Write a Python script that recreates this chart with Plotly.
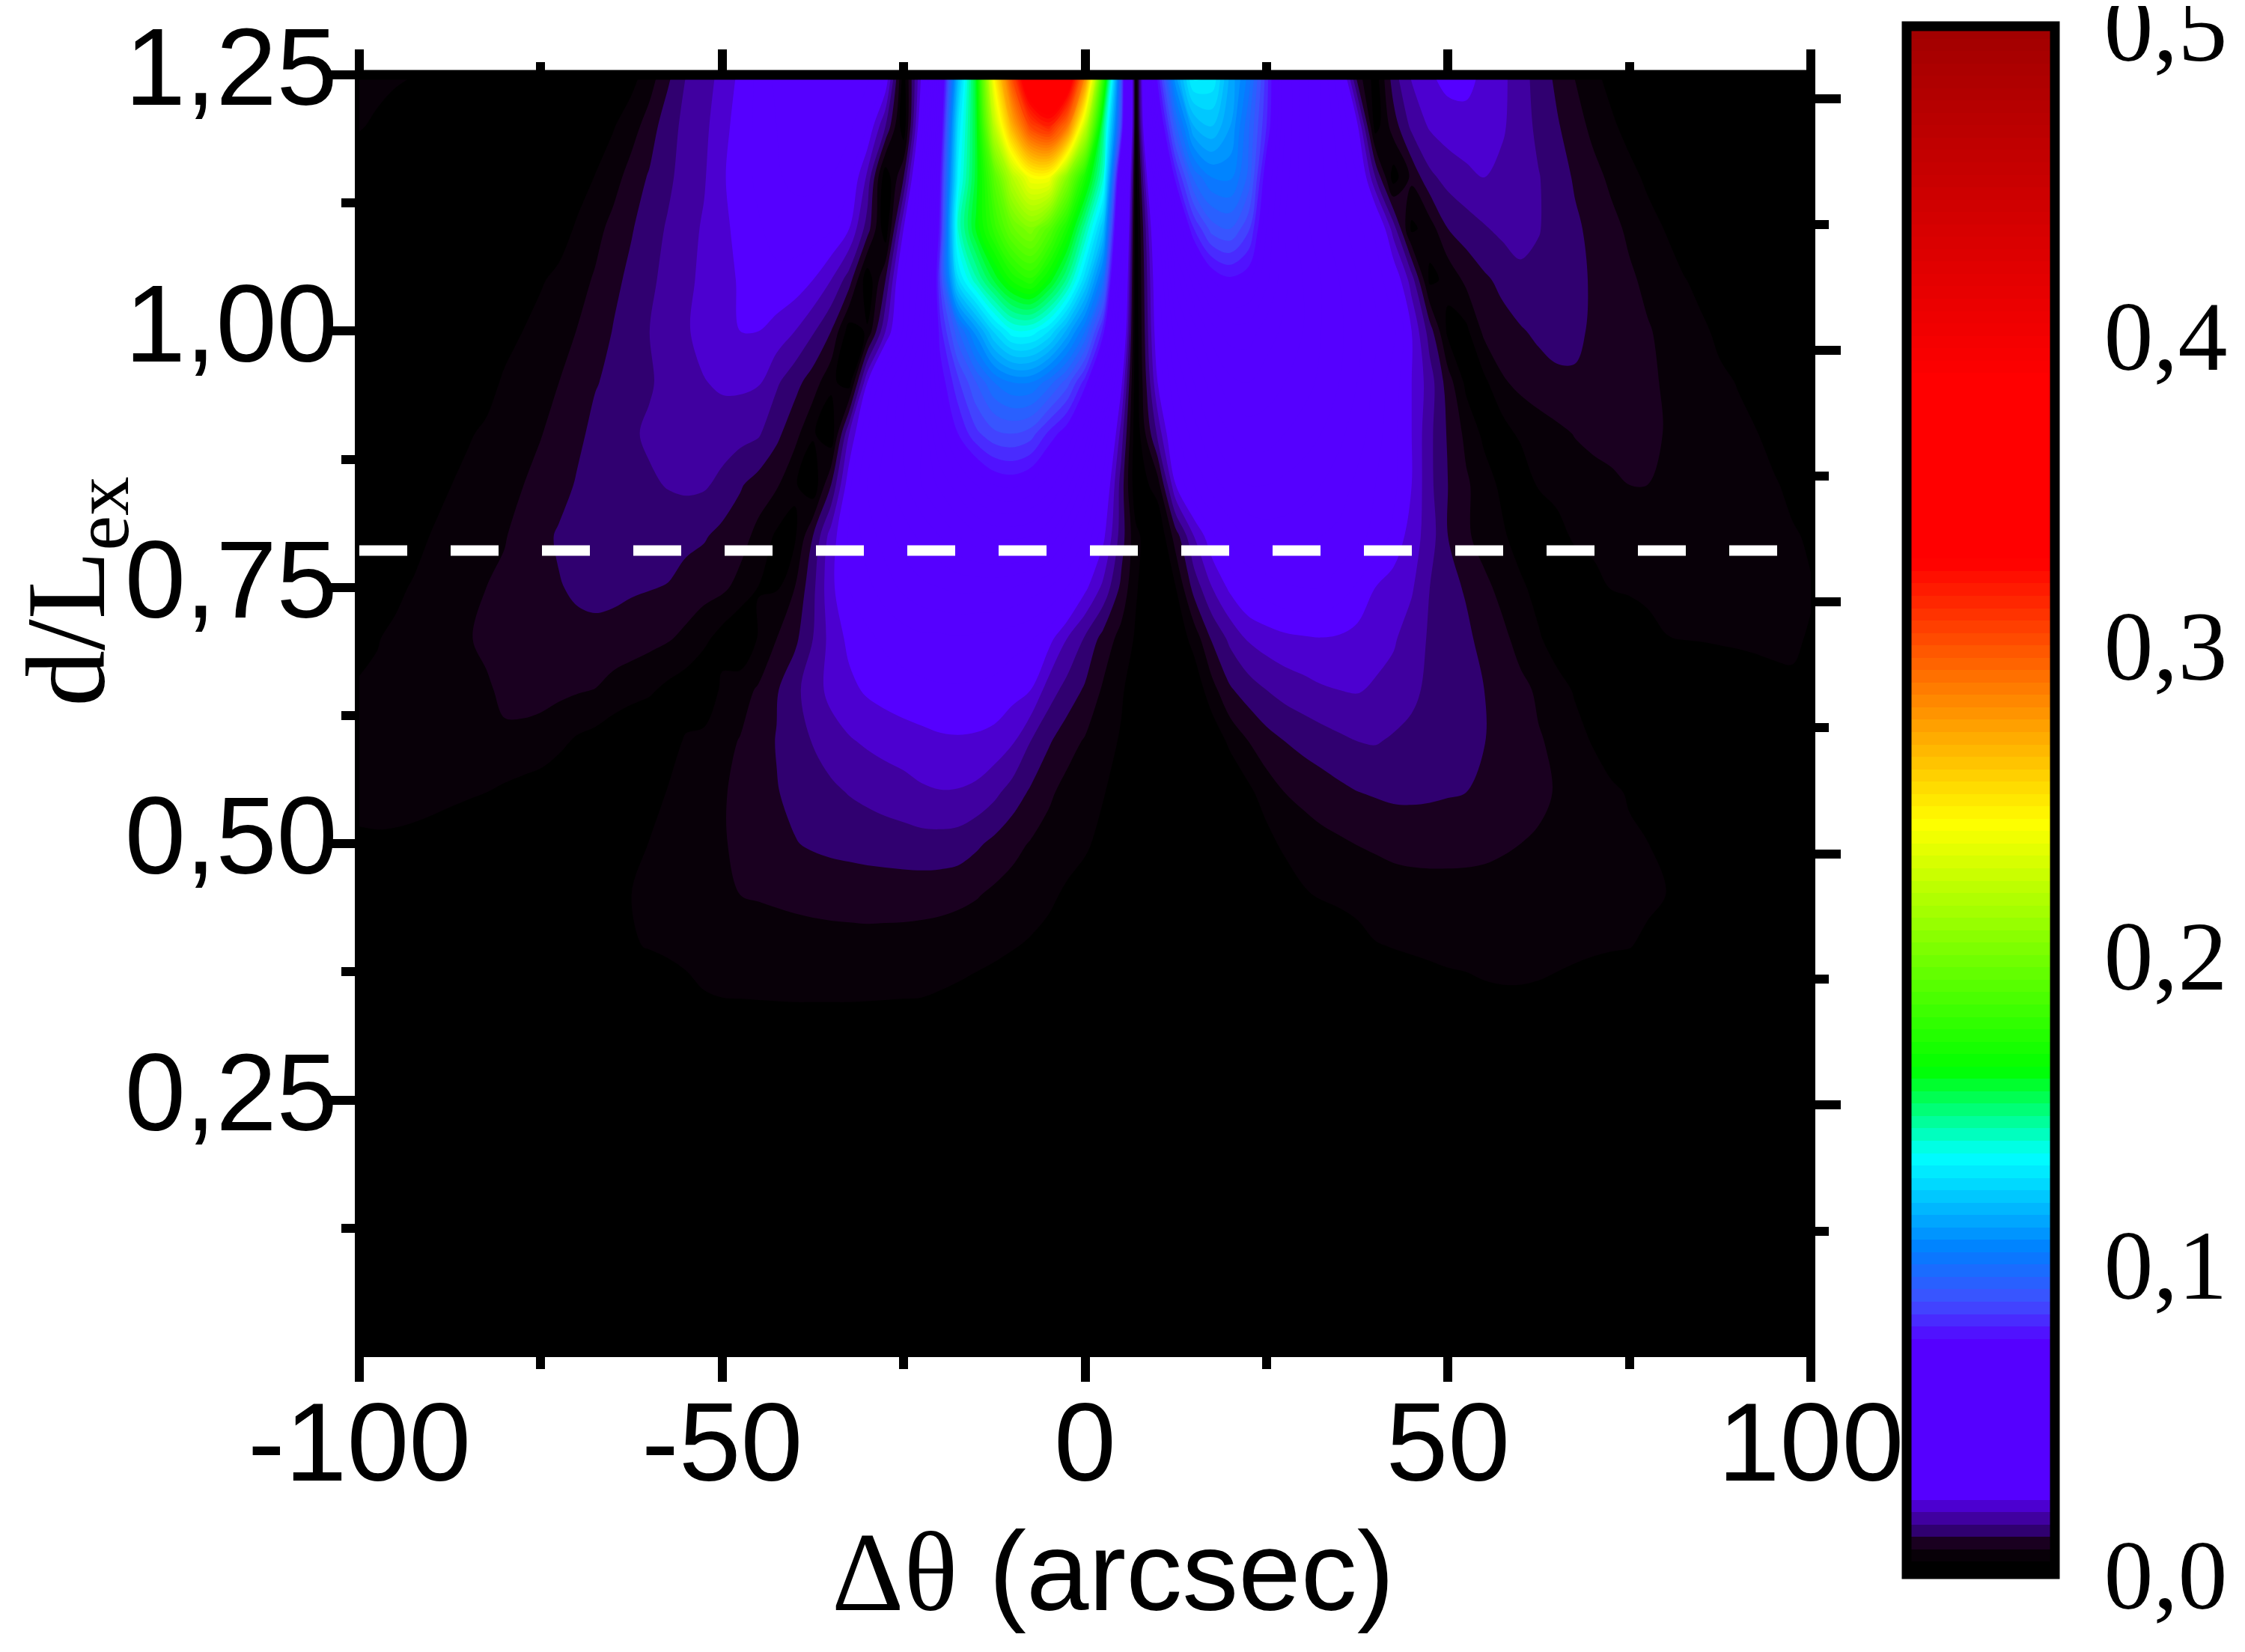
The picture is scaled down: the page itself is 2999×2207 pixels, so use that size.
#!/usr/bin/env python3
"""Diffracted intensity map versus angular offset and thickness."""

from __future__ import annotations

import numpy as np
import plotly.graph_objects as go

# angular offset nodes (arcsec), denser where the central dark fringe sits
DTHETA = [
    -100, -97.5, -95, -92.5, -90, -87.5, -85, -82.5, -80, -77.5,
    -75, -72.5, -70, -67.5, -65, -62.5, -60, -57.5, -55, -52.5,
    -50, -47.5, -45, -42.5, -40, -37.5, -35, -32.5, -30, -27.5,
    -25, -22.5, -20, -17.5, -15, -12.5, -10, -7.5, -5, -2.5,
    0, 2.5, 5, 7, 10, 12.5, 15, 17.5, 20, 22.5,
    25, 27.5, 30, 32.5, 35, 37.5, 40, 42.5, 45, 47.5,
    50, 52.5, 55, 57.5, 60, 62.5, 65, 67.5, 70, 72.5,
    75, 77.5, 80, 82.5, 85, 87.5, 90, 92.5, 95, 97.5,
    100,
]
THICKNESS = [0, 0.30, 0.35, 0.40, 0.45, 0.50, 0.55, 0.60, 0.65, 0.70, 0.75, 0.80,
             0.85, 0.90, 0.95, 1.00, 1.05, 1.10, 1.15, 1.20, 1.25]

# intensity, in units of 0.001, one list per thickness
I_125 = [6.5, 5.8, 5, 4.2, 2.5, 1, 0, 0, 0, 0,
         0, 0, 0, 0, 1, 2.5, 6, 11, 16, 18.5,
         21, 25, 29, 33, 35, 36, 36, 35, 33, 28,
         2, 25, 62, 118, 160, 247, 305, 352, 370, 350,
         285, 180, 90, 3, 78, 112, 134, 132, 115, 103,
         82, 60, 50, 44, 32, 10, 2, 14.5, 20.5, 23.5,
         25.5, 25.5, 23, 21, 17.5, 14.5, 11, 7.8, 5, 2.5,
         0, 0, 0, 0, 0, 0, 0, 0, 0, 0,
         0]
I_120 = [4.5, 3, 1, 0, 0, 0, 0, 0, 0, 0,
         0, 0, 0, 0, 3.7, 6.3, 9.9, 14.5, 17, 19,
         22.5, 26, 29, 32, 34, 35, 35, 33, 28, 16,
         1, 30, 68, 128, 158, 222, 270, 305, 316, 290,
         225, 150, 85, 3, 66, 95, 116, 120, 112, 97,
         80, 60, 50, 44, 38, 25, 2, 10, 17, 20.5,
         22, 22.5, 22, 20.5, 18, 15, 12.5, 9.7, 7, 4.8,
         2.5, 0, 0, 0, 0, 0, 0, 0, 0, 0,
         0]
I_115 = [0, 0, 0, 0, 0, 0, 0, 0, 0, 0,
         0, 0, 2, 4.2, 6.4, 9.7, 12.5, 15, 18, 19.6,
         23.5, 26, 29, 31.5, 33, 33, 32, 29, 19, 1,
         12, 38, 75, 133, 158, 190, 220, 240, 240, 205,
         170, 140, 60, 2, 45, 78, 97, 104, 105, 95,
         72, 58, 50, 45, 40, 32, 16, 2, 9, 15,
         17.5, 19, 20, 19, 17.8, 16.2, 14, 11.5, 9.3, 7.2,
         5.3, 3.2, 1, 0, 0, 0, 0, 0, 0, 0,
         0]
I_110 = [0, 0, 0, 0, 0, 0, 0, 0, 0, 0,
         0, 2, 4.6, 6.6, 9.3, 11.7, 14, 16.5, 18.5, 20.5,
         23.2, 25, 27.5, 29.5, 30, 30, 28.5, 24, 14, 1,
         24, 42, 78, 141, 161, 178, 195, 203, 190, 170,
         145, 120, 50, 1, 34, 62, 80, 90, 92, 85,
         68, 56, 50, 45, 42, 38, 31, 18, 3, 6,
         12, 14, 15.6, 17, 17.5, 16.2, 14.5, 12.7, 11, 9.1,
         7.3, 5.5, 3.8, 1, 0, 0, 0, 0, 0, 0,
         0]
I_105 = [0, 0, 0, 0, 0, 0, 0, 0, 0, 1.5,
         3.6, 5, 6.4, 8.5, 11, 13, 15, 17.5, 19, 21,
         22.5, 24.5, 26.5, 27, 26.5, 24, 20, 14, 1, 12,
         32, 42, 84, 127, 143, 157, 169, 175, 163, 147,
         125, 100, 42, 1, 30, 50, 62, 72, 75, 73,
         65, 57, 52, 48, 44, 40, 35, 28, 18, 3,
         5, 9, 11.3, 13, 15, 15, 14.2, 13.2, 11.5, 10,
         8.6, 7.2, 5.8, 4.3, 2.5, 0.5, 0, 0, 0, 0,
         0]
I_100 = [0, 0, 0, 0, 0, 0, 0, 1, 2.5, 4,
         5.3, 6.6, 8.1, 9.8, 12.2, 14, 16, 18, 19.5, 21.5,
         23.5, 24, 24, 22.5, 20, 16.5, 12, 2, 4.5, 20,
         33, 48, 78, 95, 110, 125, 135, 135, 128, 115,
         100, 78, 35, 1, 28, 42, 50, 58, 62, 62,
         58, 55, 52, 48, 45, 41, 37, 33, 24, 14,
         3, 3, 9, 10.5, 11.6, 12.8, 13.2, 12.7, 11.5, 10.4,
         9.3, 8.3, 7.2, 6, 4.8, 3, 1, 0, 0, 0,
         0]
I_095 = [0, 0, 0, 0, 0, 0, 0, 2.5, 4.6, 5.9,
         6.8, 8, 9.5, 11.8, 12.7, 14, 15.6, 17.2, 18.6, 19.8,
         20.7, 20.8, 20.4, 16.6, 13.4, 10, 5, 2, 24, 37,
         46, 55, 73, 83, 92, 100, 104, 104, 98, 90,
         78, 55, 25, 1, 24, 36, 44, 50, 55, 56,
         54, 52, 50, 47, 44, 40, 35, 30, 24, 18,
         10, 3, 3, 7.5, 9, 10.2, 11.3, 11.6, 11, 10.5,
         9.6, 8.7, 7.6, 6.8, 5.8, 4.8, 3.8, 1.5, 0, 0,
         0]
I_090 = [0, 0, 0, 0, 0, 1.5, 3.6, 4.7, 5.8, 6.7,
         7.8, 9.6, 11.3, 12.8, 14, 15.5, 16.6, 17.4, 17.9, 18,
         17.8, 17.4, 16.5, 13, 9.4, 4.5, 1, 20, 32, 40,
         48, 52, 65, 76, 83, 87, 88, 86, 79, 73,
         60, 38, 18, 1, 17, 31, 38, 44, 48, 50,
         50, 48, 46, 44, 41, 38, 34, 29, 24, 17,
         11.5, 7, 3, 2, 5, 6, 7, 8.2, 9, 9.5,
         9.5, 9, 7.8, 7, 6.3, 5.6, 4.9, 4.2, 2.5, 1,
         0]
I_085 = [0, 0, 0, 0, 1.8, 3.9, 5, 6, 6.9, 7.9,
         9.5, 10.8, 12.3, 13, 13.8, 14.8, 15.5, 16.2, 16.8, 16.5,
         15, 12.4, 10.3, 8.5, 4.5, 1, 12, 27, 36, 42,
         47, 52, 57, 62, 68, 72, 73, 71, 66, 58,
         46, 30, 14, 1, 6, 24, 32, 38, 42, 44,
         44, 43, 42, 40, 38, 35, 32, 29, 24, 17,
         12, 8.6, 6, 3, 0, 4.5, 5.3, 6, 6.6, 7.2,
         8, 8, 7.5, 7, 6.5, 6, 5.5, 5, 4.4, 3,
         1.5]
I_080 = [0, 0, 0, 2.2, 4.3, 5.4, 6.2, 6.8, 7.7, 9.6,
         11, 12.4, 13.4, 14, 14.4, 14.6, 14.5, 14, 13, 12.4,
         10.8, 9.7, 6.7, 3.3, 3.3, 12, 22, 28.5, 34, 38,
         42, 45, 48, 52, 55, 57, 57, 56, 52, 44,
         36, 25, 14, 5, 0, 10, 20, 27, 33, 37,
         38, 38, 37, 36, 35, 33, 31, 27, 22, 18,
         12, 8.7, 6.3, 4.7, 2, 0, 2.5, 4.7, 5, 5.4,
         5.7, 6, 6.1, 6.1, 6, 5.7, 5.4, 5, 4.7, 4.4,
         3.5]
I_075 = [0, 1.5, 3, 4.5, 5.4, 6.3, 7.1, 8, 8.9, 9.7,
         10.6, 11.8, 12.5, 12.8, 12.8, 12.5, 12.2, 11.8, 10.6, 9.6,
         8.9, 6.6, 3.9, 3.5, 8, 15, 23, 28, 31, 34,
         37, 39, 40, 41, 41, 41, 40, 38, 36, 32,
         25, 19, 11, 4.4, 0, 4, 13.5, 20, 25, 28.5,
         30, 31.5, 32, 32, 30, 27.5, 24, 22, 20.5, 16,
         13.5, 11.5, 9, 6.8, 4.8, 2.5, 0, 1, 2.8, 4.2,
         4.5, 4.7, 4.9, 5, 5.1, 5.1, 5.1, 5, 4.9, 4.7,
         4.2]
I_070 = [3.2, 3.8, 4.9, 5.7, 6.3, 7.1, 7.8, 8.6, 9.2, 9.7,
         10.2, 10.7, 11.1, 11.2, 10.8, 10, 9.2, 8.4, 7, 5,
         2.2, 0, 4.4, 8, 11, 16, 21.5, 25, 27, 29,
         30, 31, 31, 31.5, 31, 30.5, 29.5, 28.5, 25.5, 20,
         15.5, 10.5, 6.5, 3.5, 0, 1, 5.5, 12.5, 17, 20.5,
         22, 23, 23.5, 23.8, 23.5, 22.5, 21.5, 20.5, 18, 15.5,
         14.5, 13, 10.5, 9, 6.6, 4.5, 2, 0, 0, 0,
         1.5, 3, 3.9, 4.1, 4.2, 4.3, 4.3, 4.3, 4.3, 4.3,
         3.8]
I_065 = [4.3, 4.7, 5.1, 5.5, 5.9, 6.4, 7, 7.6, 8.6, 9,
         9.1, 8.9, 8.4, 7.9, 6.3, 5.4, 4.6, 3, 1.8, 0,
         5, 6.5, 8.5, 11.6, 15, 18, 21.3, 23, 24.6, 25.6,
         26.5, 27, 27.5, 27.5, 27.3, 27, 25.5, 24, 18, 14.5,
         11.4, 7.4, 4.6, 1.5, 0, 0, 1, 6.5, 11.5, 14,
         16, 17.5, 18.5, 19.5, 20, 20.3, 19.5, 18.5, 17, 15,
         14.5, 13.5, 12, 10.2, 9, 7.4, 5.6, 3.6, 1, 0,
         0, 0, 0, 0, 1, 2, 2.8, 3.3, 3.6, 3.7,
         3.2]
I_060 = [5.3, 5.6, 5.9, 6.2, 6.6, 6.9, 7, 7.4, 7.5, 7.2,
         6.6, 5, 3.4, 2.5, 1.5, 0.5, 0, 2.5, 4.4, 5.5,
         7, 8.2, 10, 12.2, 14.2, 16.2, 18, 19.6, 20.6, 21.4,
         22, 22.7, 23.3, 23.5, 23.3, 22.5, 20.5, 16, 12.5, 9.6,
         7.6, 5.8, 3.5, 1, 0, 0, 0, 1, 5, 8,
         10.4, 12, 13.2, 14.2, 15.2, 16, 16.3, 15.5, 14.8, 14,
         13.5, 12.8, 12.1, 11, 9.6, 8.3, 7.3, 5.4, 3.7, 1,
         0, 0, 0, 0, 0, 0, 1, 1.5, 2, 2,
         1.5]
I_055 = [5, 5.3, 5.5, 5.4, 5.2, 4.8, 4.4, 4, 3.2, 2.4,
         1.7, 1, 0.5, 0, 0, 0, 2.3, 4.2, 5.2, 6.4,
         7.6, 9, 10.4, 11.8, 13, 14.2, 15.2, 16.2, 17, 17.8,
         18.5, 19.4, 19.8, 19.7, 19, 17, 14.2, 11.4, 8.7, 6.7,
         5.3, 4.2, 2.5, 0.5, 0, 0, 0, 0, 0, 3,
         6, 8, 9, 10, 11, 11.9, 12.4, 12.8, 12.8, 12.6,
         12.3, 12, 11, 10.2, 9.6, 8.9, 7.7, 6.8, 6, 5,
         3.5, 1, 0, 0, 0, 0, 0, 0, 0, 0,
         0]
I_050 = [3.5, 3.5, 3.3, 3, 2.5, 2, 1.5, 1, 0.5, 0,
         0, 0, 0, 0, 0, 1.5, 4.2, 4.8, 5.5, 6.6,
         7.7, 8.7, 9.6, 10.5, 11.8, 12.5, 13, 13.3, 13.6, 13.9,
         14.2, 14.5, 14.5, 14.2, 12.7, 11, 9.2, 7.7, 6.5, 5.3,
         4.5, 3, 1.5, 0, 0, 0, 0, 0, 0, 0,
         2.5, 5, 6, 6.8, 7.4, 8.1, 8.6, 9.2, 9.5, 9.6,
         9.5, 9.3, 9, 8.5, 8, 7.5, 7, 6.5, 6, 5.4,
         4.8, 4.1, 3, 1, 0, 0, 0, 0, 0, 0,
         0]
I_045 = [0, 0, 0, 0, 0, 0, 0, 0, 0, 0,
         0, 0, 0, 0, 1, 4, 4.4, 4.8, 5.2, 5.8,
         6.5, 8, 8.3, 8.6, 8.9, 9.2, 9.4, 9.6, 9.8, 9.8,
         9.8, 9.7, 9.5, 9, 8.3, 7.2, 6.4, 5.6, 4.6, 3.5,
         2.5, 1.5, 0.5, 0, 0, 0, 0, 0, 0, 0,
         0, 1, 3.5, 4.4, 5, 5.4, 5.7, 6, 6.2, 6.3,
         6.4, 6.5, 6.5, 6.4, 6.2, 6, 5.8, 5.5, 5.3, 5,
         4.8, 4.5, 4.1, 2.5, 0, 0, 0, 0, 0, 0,
         0]
I_040 = [0, 0, 0, 0, 0, 0, 0, 0, 0, 0,
         0, 0, 0, 0, 0, 3.7, 4.2, 4.6, 4.9, 5.2,
         5.4, 5.7, 6, 6.2, 6.4, 6.5, 6.6, 6.6, 6.6, 6.5,
         6.4, 6.2, 5.9, 5.6, 5.2, 4.8, 4.2, 3.6, 3, 2,
         1, 0, 0, 0, 0, 0, 0, 0, 0, 0,
         0, 0, 0, 0, 1, 2.5, 3.8, 4.1, 4.3, 4.4,
         4.5, 4.5, 4.6, 4.6, 4.6, 4.6, 4.5, 4.4, 4.3, 4.2,
         4.1, 3.5, 2, 1, 0, 0, 0, 0, 0, 0,
         0]
I_035 = [0, 0, 0, 0, 0, 0, 0, 0, 0, 0,
         0, 0, 0, 0, 0, 0, 1, 2, 3, 3.8,
         4, 4.1, 4.2, 4.3, 4.4, 4.4, 4.4, 4.4, 4.3, 4.2,
         4.1, 4, 3.7, 3.3, 2.8, 2.2, 1.7, 1, 0.5, 0,
         0, 0, 0, 0, 0, 0, 0, 0, 0, 0,
         0, 0, 0, 0, 0, 1, 1.5, 2, 2.5, 3,
         3.3, 3.5, 3.7, 3.8, 3.8, 3.7, 3.5, 3.2, 2.8, 2.3,
         1.6, 1, 0, 0, 0, 0, 0, 0, 0, 0,
         0]
I_030 = [0] * 81
I_000 = [0] * 81

X_TICKS = [-100, -50, 0, 50, 100]
X_TICK_LABELS = ["-100", "-50", "0", "50", "100"]
X_MINOR = [-75, -25, 25, 75]
Y_TICKS = [0.25, 0.50, 0.75, 1.00, 1.25]
Y_TICK_LABELS = ["0,25", "0,50", "0,75", "1,00", "1,25"]
Y_MINOR = [0.125, 0.375, 0.625, 0.875, 1.125]
# the right-hand axis has its own tick spacing, unlabelled
RIGHT_TICKS = [0.245, 0.490, 0.736, 0.981, 1.227]
RIGHT_MINOR = [0.122, 0.368, 0.6135, 0.859, 1.104]
CBAR_TICKS = [0, 0.1, 0.2, 0.3, 0.4, 0.5]
CBAR_LABELS = ["0,0", "0,1", "0,2", "0,3", "0,4", "0,5"]

MARKER_X = [-100, 100]
MARKER_Y = [0.786, 0.786]

COLOR_Z = [0, 0.002, 0.006, 0.010, 0.014, 0.018, 0.022, 0.026, 0.075, 0.088, 0.105,
           0.135, 0.163, 0.2425, 0.327, 0.3855, 0.5]
COLOR_HEX = ["#000000", "#000000", "#080008", "#1a0020", "#300070", "#4000a0", "#4c00d0",
             "#5500ff", "#5500ff", "#3f4fff", "#0080ff", "#00ffff", "#00ff00", "#ffff00",
             "#ff0000", "#ff0000", "#a00000"]

SANS = "Liberation Sans"
SERIF = "Liberation Serif"

rows = [I_000, I_030, I_035, I_040, I_045, I_050, I_055, I_060, I_065, I_070, I_075,
        I_080, I_085, I_090, I_095, I_100, I_105, I_110, I_115, I_120, I_125]
intensity = np.array(rows, dtype=float) / 1000.0

fig = go.Figure()
fig.add_trace(
    go.Contour(
        x=DTHETA,
        y=THICKNESS,
        z=intensity,
        zmin=0,
        zmax=0.5,
        colorscale=[[z / 0.5, c] for z, c in zip(COLOR_Z, COLOR_HEX)],
        contours=dict(start=0, end=0.504, size=0.004, coloring="fill", showlines=False),
        line=dict(width=0, smoothing=1),
        hoverinfo="skip",
        colorbar=dict(
            x=1.0658,
            xanchor="left",
            y=-0.1697,
            yanchor="bottom",
            lenmode="pixels",
            len=2068,
            thicknessmode="pixels",
            thickness=198,
            xpad=0,
            ypad=0,
            outlinecolor="black",
            outlinewidth=13,
            borderwidth=0,
            ticks="outside",
            ticklen=33,
            tickcolor="rgba(0,0,0,0)",
            tickmode="array",
            tickvals=CBAR_TICKS,
            ticktext=CBAR_LABELS,
            ticklabeloverflow="allow",
            tickfont=dict(family=SERIF, size=132, color="black"),
        ),
    )
)
fig.add_trace(
    go.Scatter(
        x=MARKER_X,
        y=MARKER_Y,
        yaxis="y2",
        mode="lines",
        line=dict(color="white", width=14, dash="64px,58px"),
        showlegend=False,
        hoverinfo="skip",
    )
)

fig.update_layout(
    width=2999,
    height=2207,
    paper_bgcolor="white",
    plot_bgcolor="black",
    showlegend=False,
    margin=dict(l=472, r=588, t=92, b=403, pad=0, autoexpand=False),
    xaxis=dict(
        range=[-100, 100],
        tickmode="array",
        tickvals=X_TICKS,
        ticktext=X_TICK_LABELS,
        tickfont=dict(family=SANS, size=149, color="black"),
        ticks="outside",
        ticklen=33,
        tickwidth=12,
        tickcolor="black",
        ticklabelstandoff=-47,
        minor=dict(tickmode="array", tickvals=X_MINOR, ticks="outside", ticklen=16,
                   tickwidth=12, tickcolor="black"),
        showline=True,
        linecolor="black",
        linewidth=1,
        mirror="ticks",
        showgrid=False,
        zeroline=False,
    ),
    yaxis=dict(
        range=[0, 1.25],
        tickmode="array",
        tickvals=Y_TICKS,
        ticktext=Y_TICK_LABELS,
        tickfont=dict(family=SANS, size=146, color="black"),
        ticks="outside",
        ticklen=32,
        tickwidth=12,
        tickcolor="black",
        ticklabelstandoff=-38,
        ticklabelshift=-11,
        minor=dict(tickmode="array", tickvals=Y_MINOR, ticks="outside", ticklen=18,
                   tickwidth=12, tickcolor="black"),
        showline=True,
        linecolor="black",
        linewidth=6,
        showgrid=False,
        zeroline=False,
    ),
    yaxis2=dict(
        range=[0, 1.25],
        overlaying="y",
        side="right",
        anchor="x",
        tickmode="array",
        tickvals=RIGHT_TICKS,
        ticktext=[""] * len(RIGHT_TICKS),
        ticks="outside",
        ticklen=34,
        tickwidth=12,
        tickcolor="black",
        minor=dict(tickmode="array", tickvals=RIGHT_MINOR, ticks="outside", ticklen=18,
                   tickwidth=12, tickcolor="black"),
        showline=True,
        linecolor="black",
        linewidth=6,
        showgrid=False,
        zeroline=False,
    ),
    # the frame's top edge is thicker than the other three
    shapes=[
        dict(type="line", xref="paper", yref="paper", x0=-0.0031, x1=1.0031, y0=1, y1=1,
             line=dict(color="black", width=13)),
    ],
    annotations=[
        dict(
            text='<span style="font-family:Liberation Serif">Δθ</span> (arcsec)',
            xref="x",
            yref="paper",
            x=3.9,
            y=-0.1674,
            yanchor="middle",
            showarrow=False,
            font=dict(family=SANS, size=150, color="black"),
        ),
        dict(
            text="d/L<sub>ex</sub>",
            xref="paper",
            yref="paper",
            x=-0.196,
            y=0.597,
            xanchor="center",
            yanchor="middle",
            textangle=-90,
            showarrow=False,
            font=dict(family=SERIF, size=150, color="black"),
        ),
    ],
)

fig.write_html("out.html")
